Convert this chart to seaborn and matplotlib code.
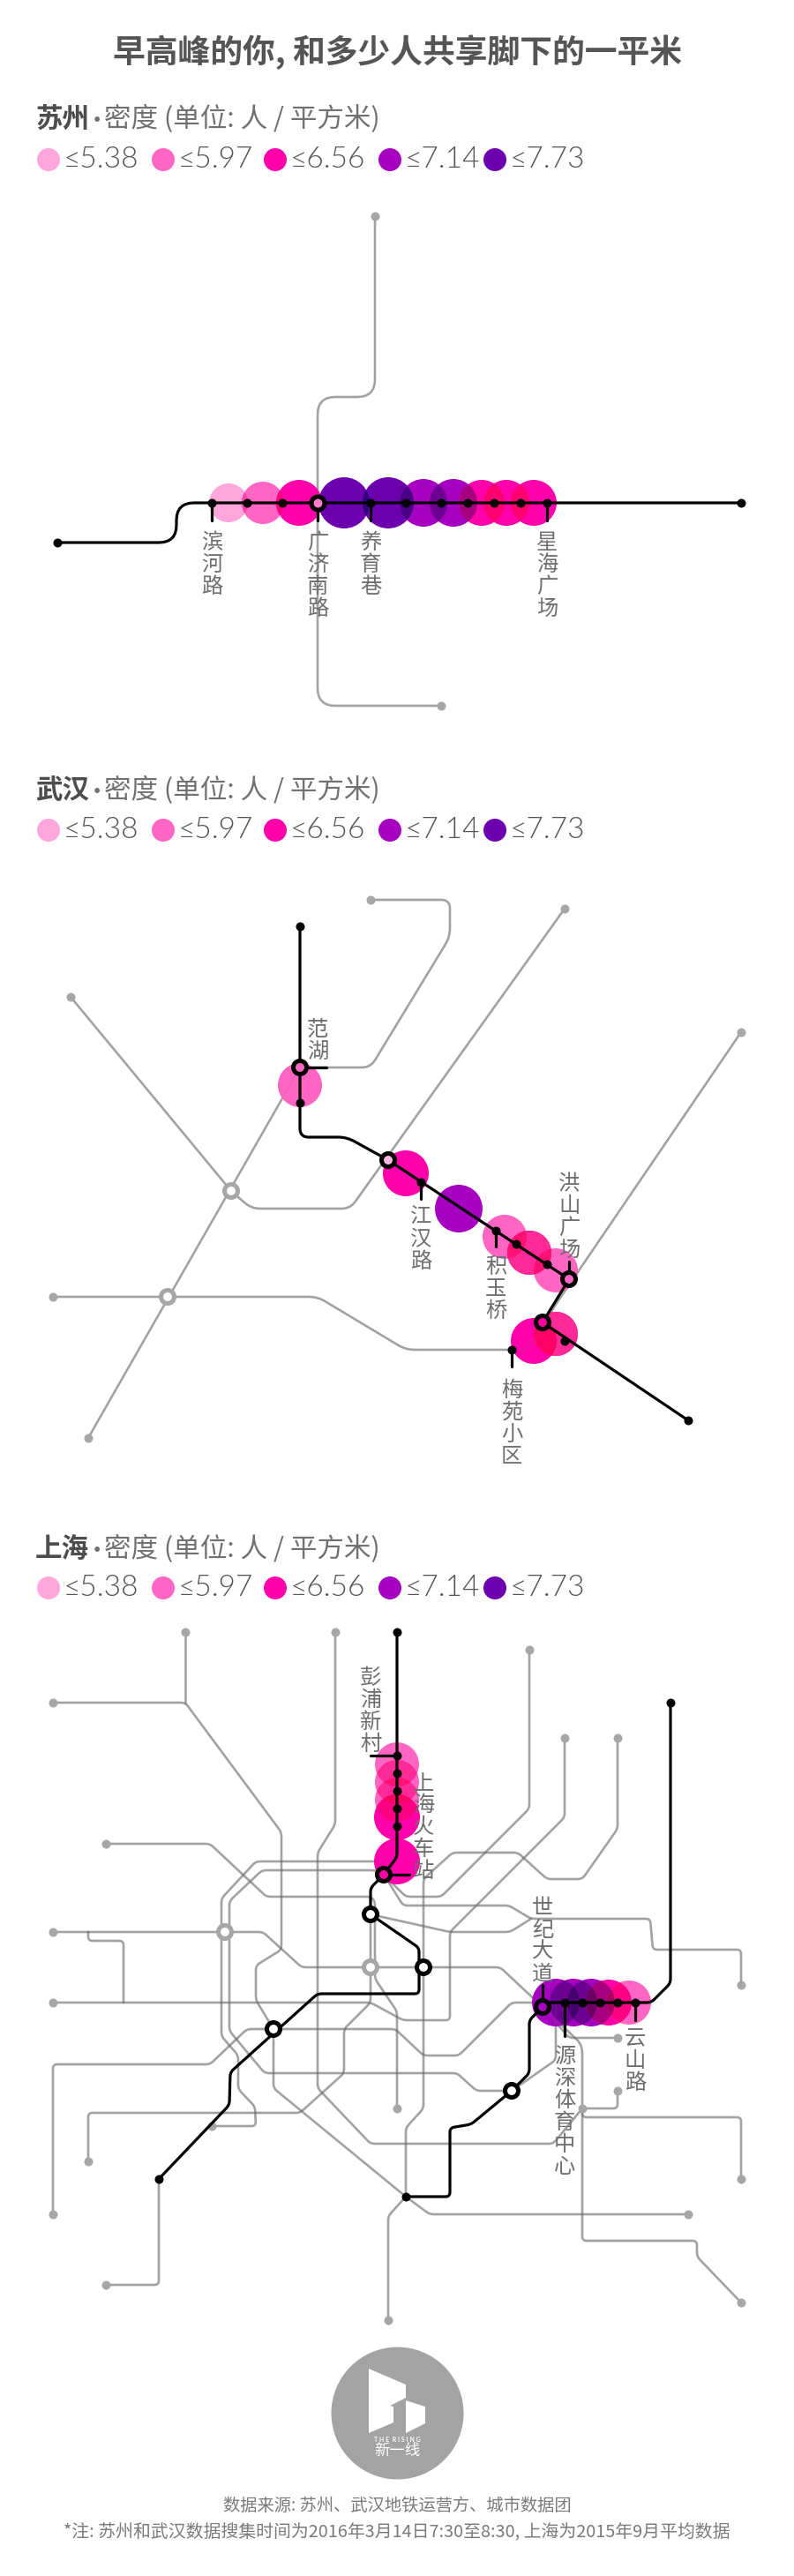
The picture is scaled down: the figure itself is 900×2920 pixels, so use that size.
import itertools
import numpy as np
import pandas as pd
import matplotlib
matplotlib.use("Agg")
import matplotlib.pyplot as plt
import matplotlib.colors as mcolors
import seaborn as sns

# legend
legend_labels = ["≤5.38", "≤5.97", "≤6.56", "≤7.14", "≤7.73"]
legend_x = [55, 185, 312, 442, 561]
level_colors = ["#FFA6DD", "#FF66C4", "#FF00AA", "#A600C0", "#6D00AE"]

# suzhou
sz_grey = [[(425, 245), (425, 450), (360, 450), (360, 800), (500, 800)]]
sz_black = [[(65, 615), (200, 615), (200, 570), (840, 570)]]
sz_ticks = [[(240, 570), (240, 590)], [(360, 570), (360, 590)], [(420, 570), (420, 590)], [(620, 570), (620, 590)]]
sz_grey_dots = [(425, 245), (500, 800)]
sz_black_dots = [(65, 615), (240, 570), (280, 570), (320, 570), (420, 570), (460, 570),
                 (500, 570), (530, 570), (560, 570), (590, 570), (620, 570), (840, 570)]
sz_rings = [(360, 570)]
sz_ring_fill = ["#FF7CCB"]
sz_grey_rings = []
sz_bubble_x = [259, 298, 339, 390, 440, 480, 514, 546, 574, 605]
sz_bubble_y = [570, 570, 570, 570, 570, 570, 570, 570, 570, 570]
sz_bubble_r = [22, 24, 26, 29, 29, 27, 27, 26, 26, 26]
sz_bubble_level = [0, 1, 2, 4, 4, 3, 3, 2, 2, 2]
sz_labels = ["滨河路", "广济南路", "养育巷", "星海广场"]
sz_label_x = [240, 360, 420, 620]
sz_label_y = [601, 601, 601, 601]

# wuhan
wh_grey = [
    [(420, 1020), (510, 1020), (510, 1062), (420, 1210), (350, 1210)],
    [(640, 1030), (397, 1370), (285, 1370), (262, 1350), (80, 1130)],
    [(100, 1630), (340, 1210)],
    [(60, 1470), (360, 1470), (460, 1530), (595, 1530), (610, 1515), (627, 1483), (840, 1170)],
]
wh_black = [[(340, 1050), (340, 1289), (393, 1289), (440, 1315), (645, 1450), (615, 1499), (780, 1610)]]
wh_ticks = [[(340, 1210), (370, 1210)], [(477, 1340), (477, 1359)], [(562, 1395), (562, 1413)],
            [(645, 1430), (645, 1450)], [(580, 1530), (580, 1549)]]
wh_grey_dots = [(420, 1020), (640, 1030), (80, 1130), (840, 1170), (60, 1470), (100, 1630)]
wh_black_dots = [(340, 1050), (340, 1250), (477, 1340), (562, 1395), (585, 1410), (620, 1433),
                 (580, 1530), (640, 1520), (780, 1610)]
wh_rings = [(340, 1210), (440, 1315), (645, 1450), (615, 1499)]
wh_ring_fill = ["#FF66C4", "#FFB8E4", "#FF66C4", "#FF0099"]
wh_grey_rings = [(262, 1350), (190, 1470)]
wh_bubble_x = [340, 460, 520, 572, 600, 600, 630, 605, 630, 630]
wh_bubble_y = [1230, 1330, 1370, 1402, 1420, 1420, 1440, 1520, 1512, 1512]
wh_bubble_r = [25, 26, 27, 25, 25, 25, 25, 26, 25, 25]
wh_bubble_level = [1, 2, 3, 1, 1, 1, 1, 2, 1, 1]
wh_labels = ["范湖", "江汉路", "积玉桥", "洪山广场", "梅苑小区"]
wh_label_x = [360, 477, 562, 645, 580]
wh_label_y = [1153, 1366, 1422, 1328, 1562]

# shanghai
sh_grey = [
    [(210, 1850), (210, 1930)],
    [(60, 1930), (210, 1930), (319, 2077), (319, 2210), (290, 2228), (290, 2267), (310, 2300),
     (310, 2367), (460, 2490), (487, 2510), (780, 2510)],
    [(380, 1850), (380, 2068), (360, 2100), (360, 2367), (420, 2430), (627, 2430), (660, 2390),
     (700, 2390), (700, 2370)],
    [(120, 2090), (238, 2090), (302, 2150), (420, 2150), (425, 2155), (425, 2243), (450, 2280), (450, 2390)],
    [(840, 2250), (840, 2210), (740, 2210), (737, 2175), (602, 2175), (577, 2160), (457, 2160),
     (435, 2125), (430, 2110), (290, 2110), (251, 2152), (251, 2308), (270, 2330), (270, 2368),
     (289, 2388), (290, 2410), (240, 2410)],
    [(600, 1870), (600, 2050), (500, 2150), (460, 2150), (435, 2125), (425, 2120), (297, 2120),
     (260, 2155), (260, 2302), (300, 2350), (518, 2350), (540, 2370), (580, 2370), (630, 2335), (630, 2270)],
    [(60, 2190), (298, 2190), (342, 2230), (567, 2230), (615, 2275), (657, 2315), (660, 2323),
     (660, 2540), (790, 2540), (790, 2558), (840, 2610)],
    [(100, 2190), (100, 2200), (140, 2200), (140, 2270)],
    [(60, 2270), (420, 2270), (457, 2290), (510, 2290), (510, 2190), (640, 2060), (640, 1970)],
    [(420, 2170), (420, 2270), (390, 2300), (390, 2350), (340, 2395), (100, 2395), (100, 2450)],
    [(420, 2170), (510, 2190), (578, 2190), (602, 2175)],
    [(700, 1970), (700, 2073), (660, 2130), (620, 2130), (587, 2100), (513, 2100), (480, 2130),
     (480, 2390), (460, 2412), (460, 2490), (440, 2512), (440, 2630)],
    [(60, 2510), (60, 2340), (238, 2340), (280, 2300), (448, 2300), (480, 2330), (520, 2330),
     (580, 2270), (615, 2270)],
    [(180, 2470), (180, 2590), (120, 2590)],
    [(660, 2390), (660, 2400), (840, 2400), (840, 2470)],
    [(615, 2275), (645, 2310), (700, 2310)],
]
sh_black = [
    [(450, 1850), (450, 2105), (435, 2125), (420, 2140), (420, 2170), (475, 2208), (475, 2260),
     (360, 2260), (261, 2349), (260, 2386), (180, 2470)],
    [(760, 1930), (760, 2248), (738, 2270), (615, 2270)],
    [(615, 2275), (600, 2290), (600, 2350), (580, 2370), (534, 2408), (510, 2412), (510, 2490), (460, 2490)],
]
sh_ticks = [[(420, 1990), (450, 1990)], [(435, 2125), (464, 2125)], [(615, 2250), (615, 2275)],
            [(640, 2270), (640, 2308)], [(720, 2270), (720, 2290)]]
sh_grey_dots = [(210, 1850), (380, 1850), (60, 1930), (600, 1870), (640, 1970), (700, 1970), (120, 2090),
                (60, 2190), (60, 2270), (840, 2250), (700, 2310), (700, 2370), (660, 2390), (450, 2390),
                (240, 2410), (100, 2450), (840, 2470), (60, 2510), (780, 2510), (120, 2590), (840, 2610),
                (440, 2630)]
sh_black_dots = [(450, 1850), (760, 1930), (180, 2470), (460, 2490), (450, 1990), (450, 2010), (450, 2030),
                 (450, 2050), (450, 2070), (640, 2270), (660, 2270), (680, 2270), (700, 2270), (720, 2270)]
sh_rings = [(435, 2125), (420, 2170), (480, 2230), (310, 2300), (615, 2275), (580, 2370)]
sh_ring_fill = ["#FF00AA", "white", "white", "white", "#A600C0", "white"]
sh_grey_rings = [(255, 2190), (420, 2230)]
sh_bubble_x = [450, 450, 450, 450, 450, 630, 650, 670, 690, 713]
sh_bubble_y = [2000, 2020, 2040, 2060, 2110, 2270, 2270, 2270, 2270, 2270]
sh_bubble_r = [25, 25, 25, 26, 26, 27, 27, 27, 26, 25]
sh_bubble_level = [1, 1, 1, 2, 2, 3, 3, 3, 2, 1]
sh_labels = ["彭浦新村", "上海火车站", "世纪大道", "源深体育中心", "云山路"]
sh_label_x = [420, 480, 615, 640, 720]
sh_label_y = [1888, 2007, 2149, 2317, 2297]

# logo
logo_left = [(418, 2685), (460, 2703), (460, 2718), (442, 2727), (446, 2728), (446, 2746), (418, 2758)]
logo_right = [(460, 2721), (482, 2728), (482, 2747), (460, 2758)]

GREY = "#6E6E6E"
CJK = ["Noto Sans CJK SC", "DejaVu Sans"]
LATIN = ["Lato", "DejaVu Sans"]
PX = 0.72  # 1 px in points at dpi 100

sns.set_theme(style="white")
plt.rcParams["font.family"] = CJK

fig = plt.figure(figsize=(9, 29.2), dpi=100)
ax = fig.add_axes([0, 0, 1, 1])


def round_path(pts, r):
    # rounds the corners of a polyline
    pts = np.array(pts, dtype=float)
    out = [pts[0]]
    for a, b, c in zip(pts[:-2], pts[1:-1], pts[2:]):
        r1 = min(r, np.linalg.norm(a - b) / 2)
        r2 = min(r, np.linalg.norm(c - b) / 2)
        p0 = b + (a - b) / np.linalg.norm(a - b) * r1
        p2 = b + (c - b) / np.linalg.norm(c - b) * r2
        for t in np.linspace(0, 1, 8):
            out.append((1 - t) ** 2 * p0 + 2 * t * (1 - t) * b + t ** 2 * p2)
    out.append(pts[-1])
    return np.array(out)


def draw_lines(paths, r, color, lw, alpha, z):
    for p in paths:
        xy = round_path(p, r)
        sns.lineplot(x=xy[:, 0], y=xy[:, 1], sort=False, estimator=None, color=color, lw=lw,
                     alpha=alpha, zorder=z, ax=ax, legend=False)


def draw_dots(pts, color, z):
    if pts:
        d = pd.DataFrame(pts, columns=["x", "y"])
        sns.scatterplot(data=d, x="x", y="y", color=color, s=(10 * PX) ** 2, linewidth=0, zorder=z,
                        ax=ax, legend=False)


def draw_rings(pts, fills, edge, z):
    if pts:
        d = pd.DataFrame(pts, columns=["x", "y"])
        d["fill"] = fills
        sns.scatterplot(data=d, x="x", y="y", hue="fill", palette={f: f for f in fills}, s=(15 * PX) ** 2,
                        edgecolor=edge, linewidth=5 * PX, zorder=z, ax=ax, legend=False)


def multiply(idx, colors):
    rgb = np.ones(3)
    for i in idx:
        rgb = rgb * np.array(mcolors.to_rgb(colors[i]))
    return rgb


def draw_bubbles(xs, ys, rs, levels):
    colors = [level_colors[k] for k in levels]
    d = pd.DataFrame({"x": xs, "y": ys, "r": rs, "level": levels})
    sns.scatterplot(data=d, x="x", y="y", hue="level", palette={k: level_colors[k] for k in set(levels)},
                    size="r", sizes={r: (2 * r * PX) ** 2 for r in set(rs)}, linewidth=0, zorder=2,
                    ax=ax, legend=False)
    # overlaps darken like a multiply layer
    th = np.linspace(0, 2 * np.pi, 240, endpoint=False)
    xs, ys, rs = np.array(xs, float), np.array(ys, float), np.array(rs, float)
    n = len(xs)
    for k in range(2, 6):
        for idx in itertools.combinations(range(n), k):
            i = list(idx)
            if np.hypot(xs[i].max() - xs[i].min(), ys[i].max() - ys[i].min()) > 2 * rs[i].max():
                continue
            px = np.concatenate([xs[j] + rs[j] * np.cos(th) for j in i])
            py = np.concatenate([ys[j] + rs[j] * np.sin(th) for j in i])
            keep = np.all([np.hypot(px - xs[j], py - ys[j]) <= rs[j] + 1e-6 for j in i], axis=0)
            if keep.sum() < 3:
                continue
            px, py = px[keep], py[keep]
            o = np.argsort(np.arctan2(py - py.mean(), px - px.mean()))
            ax.fill(px[o], py[o], color=multiply(i, colors), lw=0, zorder=2 + k * 0.01)


def draw_head(city, y_head, y_leg):
    ax.text(40, y_head, city, fontsize=22, fontweight="bold", color="#4D4D4D", va="center", ha="left", zorder=7)
    ax.text(106, y_head, "·", fontsize=22, family=LATIN, fontweight="bold", color="#707070",
            va="center", ha="left", zorder=7)
    ax.text(118, y_head, "密度 (单位: 人 / 平方米)", fontsize=22, color="#707070",
            va="center", ha="left", zorder=7)
    d = pd.DataFrame({"x": legend_x, "y": [y_leg] * 5, "c": level_colors})
    sns.scatterplot(data=d, x="x", y="y", hue="c", palette={c: c for c in level_colors}, s=(26 * PX) ** 2,
                    linewidth=0, ax=ax, legend=False, zorder=3)
    for x, t in zip(legend_x, legend_labels):
        ax.text(x + 17, y_leg, t, fontsize=24, family=LATIN, fontweight=300, color="#555555",
                va="center", ha="left", zorder=7)


def draw_city(grey, black, ticks, gdots, bdots, rings, fills, grings, bx, by, br, bl, labels, lx, ly, r):
    draw_lines(grey, r, GREY, 1.85, 0.6, 1)
    draw_bubbles(bx, by, br, bl)
    draw_lines(grey, r, GREY, 1.85, 0.1, 3)
    draw_dots(gdots, "#A6A6A6", 3)
    draw_lines(black, r, "black", 2.3, 1, 4)
    draw_lines(ticks, 0, "black", 2.3, 1, 4)
    draw_dots(bdots, "black", 5)
    draw_rings(grings, ["white"] * len(grings), "#A6A6A6", 3.5)
    draw_rings(rings, fills, "black", 5)
    for t, x, y in zip(labels, lx, ly):
        ax.text(x, y + 1, "\n".join(t), fontsize=17.5, color="#6E6E6E", ha="center",
                va="top", linespacing=0.95, zorder=6)


ax.text(450, 59, "早高峰的你, 和多少人共享脚下的一平米", fontsize=26.5, fontweight="bold", color="#555555",
        ha="center", va="center")

draw_head("苏州", 135, 181)
draw_city(sz_grey, sz_black, sz_ticks, sz_grey_dots, sz_black_dots, sz_rings, sz_ring_fill, sz_grey_rings,
          sz_bubble_x, sz_bubble_y, sz_bubble_r, sz_bubble_level, sz_labels, sz_label_x, sz_label_y, 20)

draw_head("武汉", 896, 941)
draw_city(wh_grey, wh_black, wh_ticks, wh_grey_dots, wh_black_dots, wh_rings, wh_ring_fill, wh_grey_rings,
          wh_bubble_x, wh_bubble_y, wh_bubble_r, wh_bubble_level, wh_labels, wh_label_x, wh_label_y, 10)

draw_head("上海", 1756, 1800)
draw_city(sh_grey, sh_black, sh_ticks, sh_grey_dots, sh_black_dots, sh_rings, sh_ring_fill, sh_grey_rings,
          sh_bubble_x, sh_bubble_y, sh_bubble_r, sh_bubble_level, sh_labels, sh_label_x, sh_label_y, 5)

# logo
sns.scatterplot(x=[450], y=[2735], color="#A3A3A3", s=(150 * PX) ** 2, linewidth=0, ax=ax, legend=False)
for poly in [logo_left, logo_right]:
    ax.fill(*zip(*poly), color="white", lw=0, zorder=3)
ax.text(450, 2765, "T H E  R I S I N G", fontsize=5, fontweight="bold", color="white", ha="center", va="center",
        family=LATIN, zorder=3)
ax.text(450, 2778, "新一线", fontsize=12.5, color="white", ha="center", va="center", zorder=3)

ax.text(450, 2841, "数据来源: 苏州、武汉地铁运营方、城市数据团", fontsize=13.9, color="#7A7A7A",
        ha="center", va="center")
ax.text(450, 2871, "*注: 苏州和武汉数据搜集时间为2016年3月14日7:30至8:30, 上海为2015年9月平均数据", fontsize=14.3,
        color="#7A7A7A", ha="center", va="center")

ax.set_xlim(0, 900)
ax.set_ylim(2920, 0)
ax.axis("off")
fig.savefig("out.png", dpi=100, facecolor="white")
